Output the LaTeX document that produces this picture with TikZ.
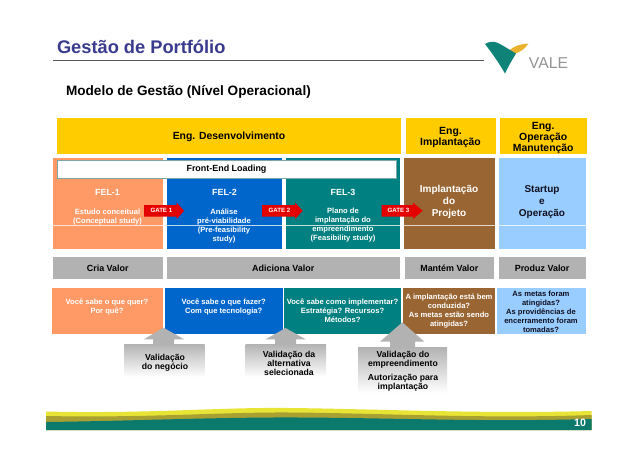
\documentclass[tikz,border=0pt]{standalone}
\usepackage{fontspec}
\setmainfont{Liberation Sans}
\usetikzlibrary{calc}
\definecolor{cOrange}{HTML}{FF9966}
\definecolor{cBlue}{HTML}{0066CC}
\definecolor{cTeal}{HTML}{008080}
\definecolor{cBrown}{HTML}{996633}
\definecolor{cSky}{HTML}{99CCFF}
\definecolor{cYellow}{HTML}{FFCC00}
\definecolor{cGray}{HTML}{B2B2B2}
\definecolor{cTitle}{HTML}{3A3A8E}
\definecolor{cFootTeal}{HTML}{0B7A6C}
\definecolor{cFootOlive}{HTML}{A9A032}
\definecolor{cFootYellow}{HTML}{E8E436}
\definecolor{cLogoTeal}{HTML}{0F8378}
\definecolor{cLogoGold}{HTML}{EBB22E}
\definecolor{cInk}{HTML}{101020}
\tikzset{
  panel/.style={inner sep=0pt,outer sep=0pt,align=center},
  txt/.style={inner sep=0pt,outer sep=0pt,align=center},
  headfont/.style={txt,text=black,font=\fontsize{7.8}{8.25}\selectfont\bfseries},
  valuefont/.style={font=\fontsize{6.7}{7}\selectfont\bfseries},
  smallw/.style={txt,text=white,font=\fontsize{5.7}{6.8}\selectfont\bfseries},
  smallk/.style={txt,text=cInk,font=\fontsize{5.7}{6.8}\selectfont\bfseries},
  felhead/.style={txt,text=white,font=\fontsize{6.7}{7}\selectfont\bfseries},
  bigw/.style={txt,text=white,font=\fontsize{7.5}{9}\selectfont\bfseries},
  bigk/.style={txt,text=cInk,font=\fontsize{7.5}{9}\selectfont\bfseries},
  valtxt/.style={txt,text=black,font=\fontsize{6.5}{6.75}\selectfont\bfseries},
  gatetxt/.style={txt,text=white,font=\fontsize{4.6}{5}\selectfont\bfseries},
  gatearrow/.style={fill=red!90!black,draw=none},
  uparrow/.style={fill=cGray,draw=none},
  valbox/.style={panel,top color=black!30,bottom color=white,draw=none},
}
\newcommand{\bx}[7]{%
  \pgfmathsetmacro{\bxw}{(#4-#2)*0.75}\pgfmathsetmacro{\bxh}{(#5-#3)*0.75}%
  \node[panel,#6,minimum width=\bxw pt,minimum height=\bxh pt] (#1) at ({(#2+#4)/2},{(#3+#5)/2}) {#7};}
\begin{document}
\begin{tikzpicture}[x=0.75pt,y=-0.75pt]
\useasboundingbox (0,0) rectangle (638,451);
\fill[white] (0,0) rectangle (638,451);
% title
\node[txt,anchor=west,text=cTitle,font=\fontsize{13.7}{14}\selectfont\bfseries] (title) at (57,47) {Gestão de Portfólio};
\draw[black!65,line width=0.6pt] (53,60.5) -- (484,60.5);
\node[txt,anchor=west,text=black,font=\fontsize{10.2}{11}\selectfont\bfseries] (sub) at (66,92) {Modelo de Gestão (Nível Operacional)};
% logo
\fill[cLogoGold] (528.5,43.5) .. controls (522,44) and (515,45) .. (508,51.5) -- (514.5,54) .. controls (520,52) and (525,49) .. (528.5,43.5) -- cycle;
\fill[cLogoTeal] (485,44) .. controls (489,41.5) and (494,41) .. (498,43) .. controls (503,45.5) and (510,50) .. (516,53.5) .. controls (512,60) and (508,67) .. (505,73.5) .. controls (499,63) and (492,53) .. (485,44) -- cycle;
\node[txt,anchor=center,text=black!42,font=\fontsize{11.8}{12}\selectfont] (vale) at (548.5,63.5) {VALE};
% header row
\bx{engdes}{57}{118}{401}{154}{fill=cYellow}{}
\bx{engimp}{405.5}{118}{495.5}{154}{fill=cYellow}{}
\bx{engop}{499.5}{118}{587}{154}{fill=cYellow}{}
\node[headfont] (engdest) at (229,137) {Eng. Desenvolvimento};
\node[headfont] (engimpt) at (450.5,137) {Eng.\\Implantação};
\node[headfont] (engopt) at (543.2,137.5) {Eng.\\Operação\\Manutenção};
% phases
\bx{fela}{52.5}{158}{163}{249}{fill=cOrange}{}
\bx{felb}{166.5}{158}{281.7}{249}{fill=cBlue}{}
\bx{felc}{285.7}{158}{400}{249}{fill=cTeal}{}
\bx{impl}{404}{158}{494.7}{249}{fill=cBrown}{}
\bx{start}{498.7}{158}{585.5}{249}{fill=cSky}{}
\draw[white,opacity=.75,line width=0.5pt] (52.5,225.3) -- (585.5,225.3);
\bx{fel}{57}{160}{396}{178}{fill=white,draw=cTeal!45!gray!70,line width=0.6pt,font=\fontsize{6.7}{7}\selectfont\bfseries}{Front-End Loading}
\node[felhead] (ta) at (107.5,192) {FEL-1};
\node[felhead] (tb) at (224.5,192) {FEL-2};
\node[felhead] (tc) at (343,192) {FEL-3};
\node[smallw] (da) at (107.5,216.8) {Estudo conceitual\\(Conceptual study)};
\node[smallw] (db) at (224,226) {Análise\\pré-viabilidade\\(Pre-feasibility\\study)};
\node[smallw] (dc) at (343,224.7) {Plano de\\implantação do\\empreendimento\\(Feasibility study)};
\node[bigw] (ti) at (449,201.7) {Implantação\\do\\Projeto};
\node[bigk] (ts) at (542,201.7) {Startup\\e\\Operação};
% gates
\foreach \n/\xa/\xb/\xc in {1/144/176.7/184,2/262/295/302.7,3/381.7/413/422.7}{
  \fill[gatearrow] (\xa,205) -- (\xb,205) -- (\xb,202.5) -- (\xc,210.8) -- (\xb,219) -- (\xb,216.7) -- (\xa,216.7) -- cycle;
  \node[gatetxt] (gate\n) at ({(\xa+\xb)/2+1},210.8) {GATE \n};
}
% value row
\bx{va}{52.5}{257}{163}{279}{fill=cGray,valuefont}{Cria Valor}
\bx{vb}{166.5}{257}{400}{279}{fill=cGray,valuefont}{Adiciona Valor}
\bx{vc}{404.7}{257}{494}{279}{fill=cGray,valuefont}{Mantém Valor}
\bx{vd}{498.7}{257}{585.5}{279}{fill=cGray,valuefont}{Produz Valor}
% question row
\bx{qa}{52}{288}{163}{334}{fill=cOrange}{}
\bx{qb}{165.3}{288}{282.7}{334}{fill=cBlue}{}
\bx{qc}{284.3}{288}{401}{334}{fill=cTeal}{}
\bx{qd}{403}{288}{494.7}{334}{fill=cBrown}{}
\bx{qe}{497}{288}{586}{334}{fill=cSky}{}
\node[smallw] (qat) at (107,306.5) {Você sabe o que quer?\\Por quê?};
\node[smallw] (qbt) at (223.7,306.5) {Você sabe o que fazer?\\Com que tecnologia?};
\node[smallw] (qct) at (342.5,311) {Você sabe como implementar?\\Estratégia? Recursos?\\Métodos?};
\node[smallw] (qdt) at (449,311) {A implantação está bem\\conduzida?\\As metas estão sendo\\atingidas?};
\node[smallk] (qet) at (541,311.5) {As metas foram\\atingidas?\\As providências de\\encerramento foram\\tomadas?};
% validation boxes
\bx{ba}{124}{344}{204.7}{377}{valbox}{}
\bx{bb}{245.7}{344}{326}{377}{valbox}{}
\bx{bc}{358}{347.3}{447}{393}{valbox}{}
\fill[uparrow] (163.5,327.7) -- (184,339.3) -- (174,339.3) -- (174,344) -- (153,344) -- (153,339.3) -- (144,339.3) -- cycle;
\fill[uparrow] (285.5,328) -- (305.7,339.3) -- (296,339.3) -- (296,344) -- (275,344) -- (275,339.3) -- (265.7,339.3) -- cycle;
\fill[uparrow] (402.3,322.3) -- (424.3,341.7) -- (415,341.7) -- (415,347.3) -- (390,347.3) -- (390,341.7) -- (380,341.7) -- cycle;
\node[valtxt] (bat) at (165,362.5) {Validação\\do negócio};
\node[valtxt] (bbt) at (289,363) {Validação da\\alternativa\\selecionada};
\node[valtxt] (bct) at (403,371.3) {Validação do\\empreendimento\\[3.7pt]Autorização para\\implantação};
% footer
\fill[cFootYellow] (46,411.5) .. controls (150,414) and (220,407) .. (290,408) .. controls (380,409) and (480,414) .. (591.7,411) -- (591.7,430) -- (46,430) -- cycle;
\fill[cFootOlive] (46,416) .. controls (150,418) and (220,412) .. (290,412.5) .. controls (380,413) and (480,419) .. (591.7,415) -- (591.7,430) -- (46,430) -- cycle;
\fill[cFootTeal] (46,422) .. controls (130,421) and (220,417) .. (300,417.5) .. controls (400,418) and (480,422) .. (591.7,419) -- (591.7,430) -- (46,430) -- cycle;
\node[txt,text=white,font=\fontsize{8}{8}\selectfont\bfseries] (pageno) at (580,422.5) {10};
\end{tikzpicture}
\end{document}
